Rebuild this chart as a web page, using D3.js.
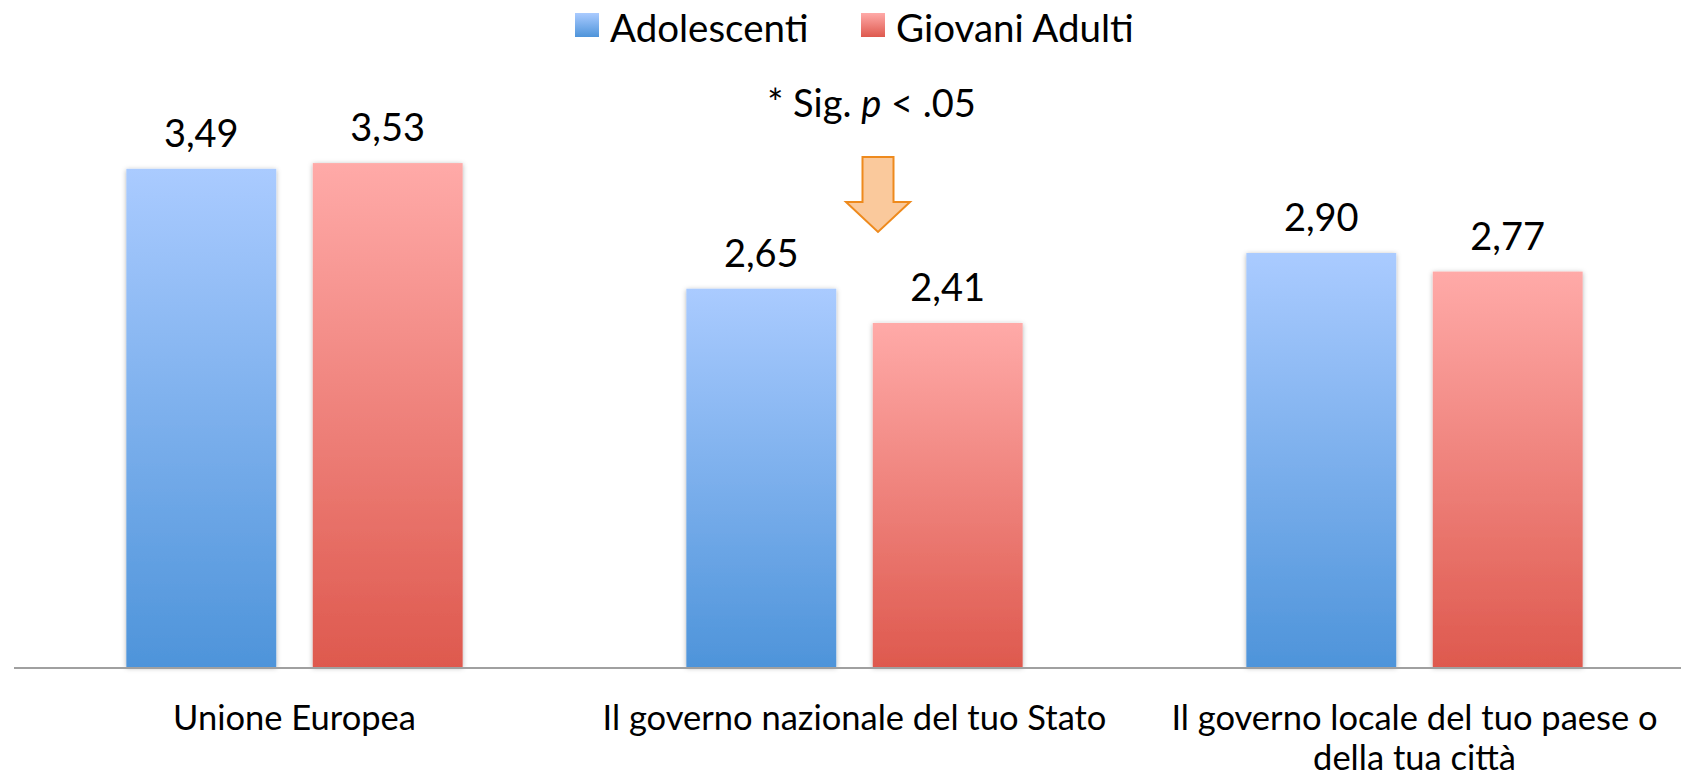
<!DOCTYPE html>
<html lang="it">
<head>
<meta charset="UTF-8">
<title>Fiducia nelle istituzioni</title>
<script src="https://d3js.org/d3.v7.min.js"></script>
<style>
  html, body { margin: 0; padding: 0; background: #fff; }
  svg { display: block; font-family: Lato, "Open Sans", sans-serif; }
</style>
</head>
<body>
<script>
// data
var categories = ["Unione Europea", "Il governo nazionale del tuo Stato", "Il governo locale del tuo paese o della tua città"];
var seriesNames = ["Adolescenti", "Giovani Adulti"];
var adolescenti = [3.49, 2.65, 2.90];
var giovaniAdulti = [3.53, 2.41, 2.77];
var yMax = 4;

var width = 1681, height = 774;
var baseY = 667, topY = 96;

var colors = {
  "Adolescenti": { top: "#aacbff", bottom: "#4e94da" },
  "Giovani Adulti": { top: "#ffaaa8", bottom: "#de594e" }
};

var rows = categories.map(function(c, i) {
  return { cat: c, values: [
    { key: seriesNames[0], value: adolescenti[i] },
    { key: seriesNames[1], value: giovaniAdulti[i] }
  ]};
});

var svg = d3.select("body").append("svg")
  .attr("width", width)
  .attr("height", height);

var defs = svg.append("defs");
seriesNames.forEach(function(s, i) {
  var g = defs.append("linearGradient")
    .attr("id", "grad" + i)
    .attr("x1", 0).attr("y1", 0).attr("x2", 0).attr("y2", 1);
  g.append("stop").attr("offset", "0%").attr("stop-color", colors[s].top);
  g.append("stop").attr("offset", "100%").attr("stop-color", colors[s].bottom);
});
var shadow = defs.append("filter").attr("id", "shadow")
  .attr("x", "-10%").attr("y", "-5%").attr("width", "120%").attr("height", "110%");
shadow.append("feDropShadow")
  .attr("dx", 0).attr("dy", 1)
  .attr("stdDeviation", 2.5)
  .attr("flood-color", "#000")
  .attr("flood-opacity", 0.3);

// scales
var x0 = d3.scaleBand().domain(categories).range([14.5, 14.5 + 560 * 3]);
var x1 = d3.scaleBand().domain(seriesNames).range([0, x0.bandwidth()])
  .paddingInner(0.196).paddingOuter(0.6);
var y = d3.scaleLinear().domain([0, yMax]).range([baseY, topY]);

var fmt = function(v) { return d3.format(".2f")(v).replace(".", ","); };

// bars
var groups = svg.selectAll(".group")
  .data(rows)
  .enter().append("g")
  .attr("class", "group")
  .attr("transform", function(d) { return "translate(" + x0(d.cat) + ",0)"; });

groups.selectAll("rect")
  .data(function(d) { return d.values; })
  .enter().append("rect")
  .attr("x", function(d) { return x1(d.key); })
  .attr("y", function(d) { return y(d.value); })
  .attr("width", x1.bandwidth())
  .attr("height", function(d) { return baseY - y(d.value); })
  .attr("fill", function(d) { return "url(#grad" + seriesNames.indexOf(d.key) + ")"; })
  .attr("filter", "url(#shadow)");

groups.selectAll(".val")
  .data(function(d) { return d.values; })
  .enter().append("text")
  .attr("class", "val")
  .attr("x", function(d) { return x1(d.key) + x1.bandwidth() / 2; })
  .attr("y", function(d) { return y(d.value) - 22; })
  .attr("text-anchor", "middle")
  .style("font-size", "38px")
  .attr("fill", "#000")
  .text(function(d) { return fmt(d.value); });

// x axis line
svg.append("line")
  .attr("x1", 14).attr("x2", width)
  .attr("y1", baseY + 1).attr("y2", baseY + 1)
  .attr("stroke", "#a0a0a0")
  .attr("stroke-width", 2);

// category labels, wrapped to the band width
var catLabels = svg.selectAll(".cat")
  .data(categories)
  .enter().append("text")
  .attr("class", "cat")
  .attr("text-anchor", "middle")
  .style("font-size", "34.5px")
  .attr("fill", "#000")
  .attr("x", function(d) { return x0(d) + x0.bandwidth() / 2; })
  .attr("y", 730);

catLabels.each(function(d) {
  var text = d3.select(this);
  var words = d.split(" ");
  var line = [];
  var cx = x0(d) + x0.bandwidth() / 2;
  var tspan = text.append("tspan").attr("x", cx).attr("dy", 0);
  words.forEach(function(w) {
    line.push(w);
    tspan.text(line.join(" "));
    if (tspan.node().getComputedTextLength() > x0.bandwidth() - 20 && line.length > 1) {
      line.pop();
      tspan.text(line.join(" "));
      line = [w];
      tspan = text.append("tspan").attr("x", cx).attr("dy", 40).text(w);
    }
  });
});

// legend
var legendPos = [575, 861];
var legend = svg.selectAll(".legend")
  .data(seriesNames)
  .enter().append("g")
  .attr("class", "legend")
  .attr("transform", function(d, i) { return "translate(" + legendPos[i] + ",13)"; });

legend.append("rect")
  .attr("width", 24).attr("height", 24)
  .attr("fill", function(d, i) { return "url(#grad" + i + ")"; });

legend.append("text")
  .attr("x", 35)
  .attr("y", 28.7)
  .style("font-size", "38.5px")
  .attr("fill", "#000")
  .text(function(d) { return d; });

// significance note and arrow over the second group
var noteX = x0(categories[1]) + x0.bandwidth() / 2 + 17;
var note = svg.append("text")
  .attr("x", noteX)
  .attr("y", 117)
  .attr("text-anchor", "middle")
  .style("font-size", "38px")
  .attr("fill", "#000");
note.append("tspan").text("* Sig. ");
note.append("tspan").style("font-style", "italic").text("p");
note.append("tspan").text(" < .05");

var ax = x0(categories[1]) + x0.bandwidth() / 2 + 23.5;
var arrow = d3.path();
arrow.moveTo(ax - 15.5, 157);
arrow.lineTo(ax + 15.5, 157);
arrow.lineTo(ax + 15.5, 202);
arrow.lineTo(ax + 32, 202);
arrow.lineTo(ax, 232);
arrow.lineTo(ax - 32, 202);
arrow.lineTo(ax - 15.5, 202);
arrow.closePath();
svg.append("path")
  .attr("d", arrow.toString())
  .attr("fill", "#fac99c")
  .attr("stroke", "#ee8a1d")
  .attr("stroke-width", 2)
  .attr("stroke-linejoin", "miter");
</script>
</body>
</html>
